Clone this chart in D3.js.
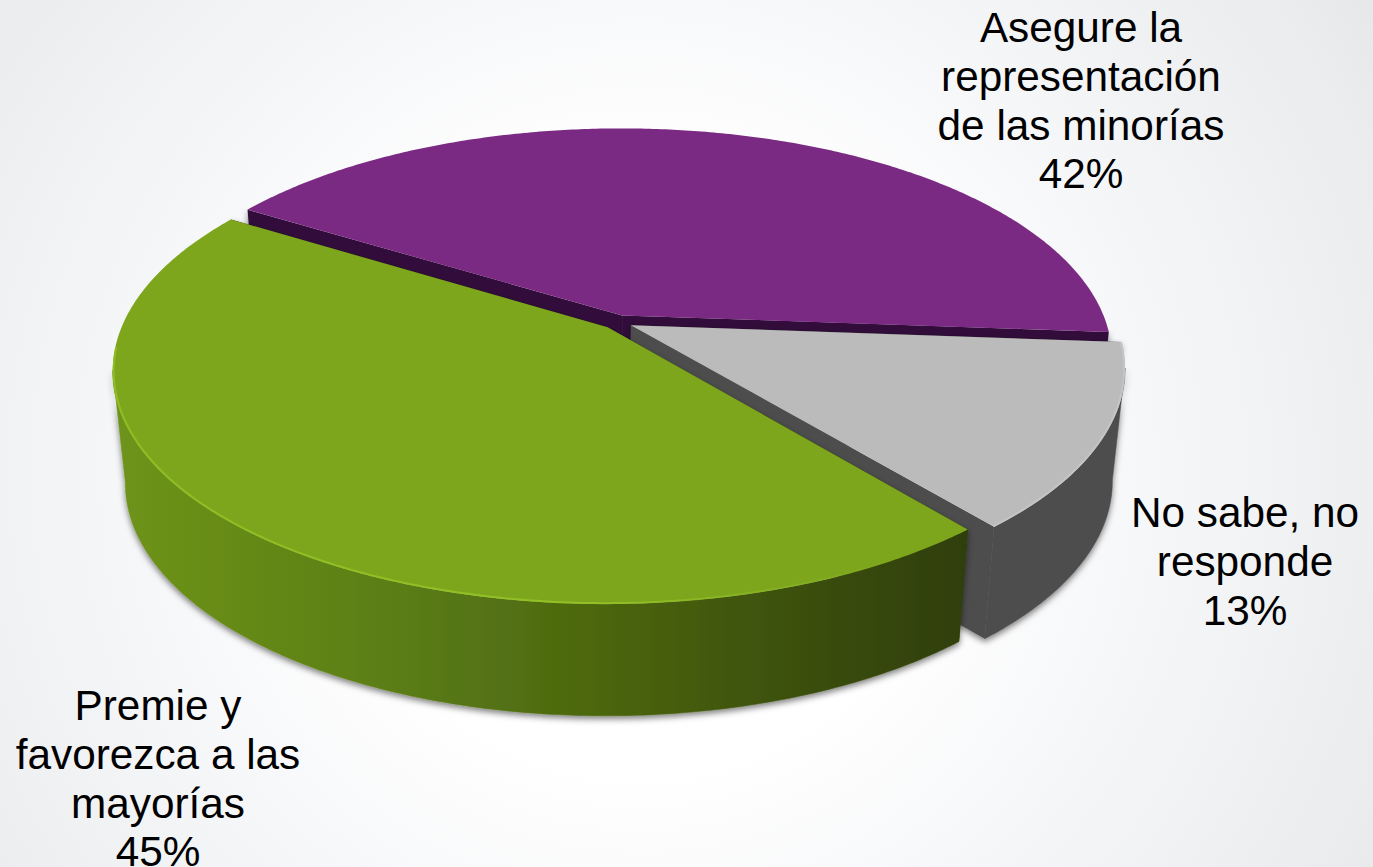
<!DOCTYPE html>
<html>
<head>
<meta charset="utf-8">
<script src="https://cdn.jsdelivr.net/npm/d3@7"></script>
<style>
  html, body { margin: 0; padding: 0; overflow: hidden; background: #fff; }
  text { font-family: "Liberation Sans", Arial, sans-serif; fill: #000; }
</style>
</head>
<body>
<script>
// data, labels show them rounded
const categories = ['Asegure la representación de las minorías', 'No sabe, no responde', 'Premie y favorezca a las mayorías'];
const values = [42.4, 12.8, 44.8];
const labelLines = [
    ['Asegure la', 'representación', 'de las minorías', '42%'],
    ['No sabe, no', 'responde', '13%'],
    ['Premie y', 'favorezca a las', 'mayorías', '45%']
];
const topColors = ['#7b2a83', '#bbbbbb', '#7da61d'];
const cutColors = ['#33103a', '#4d4d4d', '#2f3e08'];
const wallColors = ['#33103a', '#4d4d4d', 'url(#greenWall)'];
const rimColors = ['none', '#c4c4c4', 'url(#greenRim)'];

// label anchors, x centre and first line centre
const labelX = [1081, 1245, 158];
const labelY = [27, 512, 705];
const lineGap = 48.7;

const w = 1373
const h = 867

// fake 3d set up, a circle seen from above with some perspective
const cx = 617.5, cy = 322
const rx = 484, ry = 223.6
const persp = 0.1837
const explode = 0.031
const depth = 112
const bottomScale = 0.975
const rad = Math.PI / 180

function project(u, v, lower) {
    const k = 1 - persp * v
    const s = lower ? bottomScale : 1
    return [cx + s * rx * u / k, cy + ry * v / k + (lower ? depth : 0)]
}

const pie = d3.pie()
    .sort(null)
    .startAngle(-58.4 * rad)
    .endAngle(301.6 * rad)
const slices = pie(values)

// point on slice at angle a, radius r
function pointOn(d, a, r, lower) {
    const mid = (d.startAngle + d.endAngle) / 2
    const u = explode * Math.sin(mid) + r * Math.sin(a)
    const v = -explode * Math.cos(mid) - r * Math.cos(a)
    return project(u, v, lower)
}

function rimAngles(a0, a1) {
    const n = Math.ceil(Math.abs(a1 - a0) / 0.01)
    return d3.range(n + 1).map(i => a0 + (a1 - a0) * i / n)
}

// part of the round side that faces the viewer
const faceFrom = 100.6 * rad
const faceTo = 259.4 * rad

const line = d3.line()

const svg = d3.select('body')
    .append('svg')
    .attr('width', w)
    .attr('height', h)
    .style('display', 'block')

const defs = svg.append('defs')

function addGradient(type, id, attrs, stops) {
    const g = defs.append(type)
        .attr('id', id)
        .attr('gradientUnits', 'userSpaceOnUse')
    Object.keys(attrs).forEach(k => g.attr(k, attrs[k]))
    g.selectAll('stop')
        .data(stops)
        .enter().append('stop')
        .attr('offset', d => d[0])
        .attr('stop-color', d => d[1])
        .attr('stop-opacity', d => d[2] === undefined ? 1 : d[2])
}

addGradient('radialGradient', 'bg', { cx: 640, cy: 470, r: 860 },
    [[0, '#ffffff'], [0.35, '#ffffff'], [0.62, '#f5f6f8'], [0.92, '#ebecee'], [1, '#e6e8ea']])
addGradient('linearGradient', 'greenWall', { x1: 115, x2: 968, y1: 0, y2: 0 },
    [[0, '#6e941a'], [0.33, '#5b7d15'], [0.55, '#4d6810'], [0.72, '#41570e'], [1, '#2f3e08']])
addGradient('linearGradient', 'greenRim', { x1: 113, x2: 900, y1: 0, y2: 0 },
    [[0, '#8fbc22'], [0.6, '#93c026'], [1, '#93c026', 0]])

const shadow = defs.append('filter')
    .attr('id', 'wallShadow')
    .attr('x', '-10%').attr('y', '-10%').attr('width', '120%').attr('height', '120%')
shadow.append('feDropShadow')
    .attr('dx', 0).attr('dy', 3)
    .attr('stdDeviation', 3)
    .attr('flood-color', '#000')
    .attr('flood-opacity', 0.5)

const soft = defs.append('filter').attr('id', 'soft')
soft.append('feGaussianBlur').attr('stdDeviation', 0.6)

svg.append('rect')
    .attr('width', w)
    .attr('height', h)
    .attr('fill', 'url(#bg)')

// order of the pie is also back to front
const groups = svg.selectAll('g.slice')
    .data(slices)
    .enter()
    .append('g')
    .attr('class', 'slice')

const walls = groups.append('g').attr('filter', 'url(#wallShadow)')

// cut faces
walls.selectAll('path.cut')
    .data(d => [[d, d.startAngle], [d, d.endAngle]])
    .enter()
    .append('path')
    .attr('class', 'cut')
    .attr('d', e => line([
        pointOn(e[0], 0, 0, false),
        pointOn(e[0], e[1], 1, false),
        pointOn(e[0], e[1], 1, true),
        pointOn(e[0], 0, 0, true)
    ]) + 'Z')
    .attr('fill', e => cutColors[e[0].index])

// round side, only where it faces the viewer
walls.filter(d => d.endAngle > faceFrom && d.startAngle < faceTo)
    .append('path')
    .attr('d', d => {
        const a = rimAngles(Math.max(d.startAngle, faceFrom), Math.min(d.endAngle, faceTo))
        return line(a.map(t => pointOn(d, t, 1, false))
            .concat(a.slice().reverse().map(t => pointOn(d, t, 1, true)))) + 'Z'
    })
    .attr('fill', d => wallColors[d.index])
    .attr('stroke', d => wallColors[d.index])
    .attr('stroke-width', 0.5)

// top faces
groups.append('path')
    .attr('d', d => line([pointOn(d, 0, 0, false)]
        .concat(rimAngles(d.startAngle, d.endAngle).map(t => pointOn(d, t, 1, false)))) + 'Z')
    .attr('fill', d => topColors[d.index])

// light bevel along the front of the rim
groups.append('path')
    .attr('d', d => line(rimAngles(d.startAngle, Math.min(d.endAngle, 265 * rad))
        .map(t => pointOn(d, t, 0.998, false))))
    .attr('fill', 'none')
    .attr('stroke', d => rimColors[d.index])
    .attr('stroke-width', 2)
    .attr('filter', 'url(#soft)')

// labels
const labels = svg.selectAll('text.label')
    .data(categories)
    .enter()
    .append('text')
    .attr('class', 'label')
    .attr('text-anchor', 'middle')
    .attr('font-size', 42.3)

labels.selectAll('tspan')
    .data((d, i) => labelLines[i].map((t, j) => ({ t: t, x: labelX[i], y: labelY[i] + j * lineGap })))
    .enter()
    .append('tspan')
    .attr('x', d => d.x)
    .attr('y', d => d.y)
    .attr('dy', '0.36em')
    .text(d => d.t)
</script>
</body>
</html>
